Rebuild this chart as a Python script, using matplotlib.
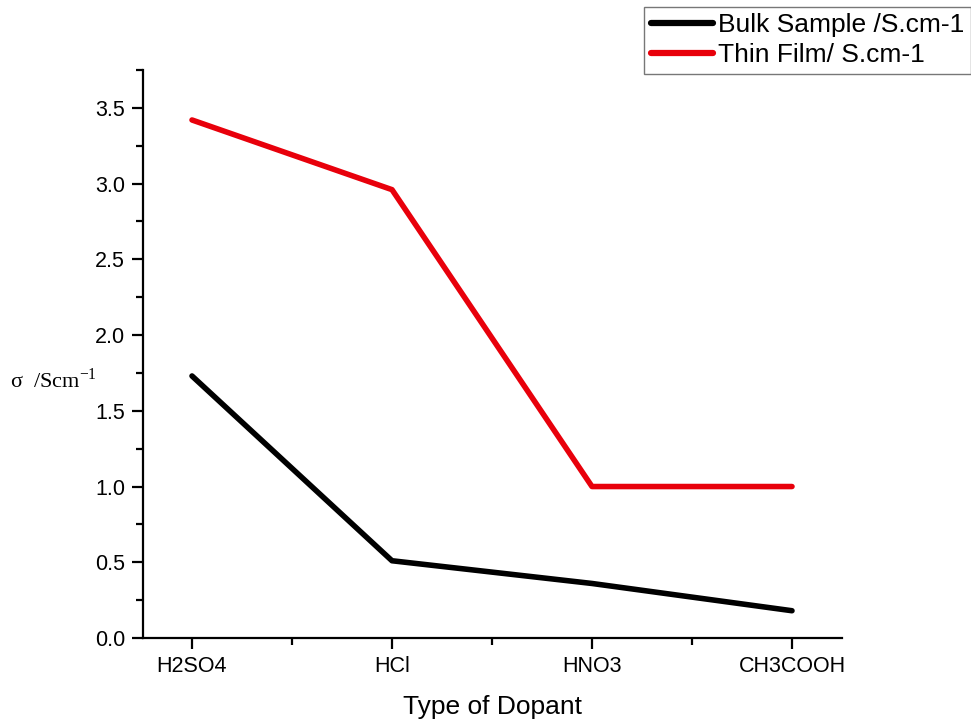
import matplotlib
matplotlib.use("Agg")
import matplotlib.pyplot as plt
from matplotlib.ticker import MultipleLocator

categories = ["H2SO4", "HCl", "HNO3", "CH3COOH"]
bulk = [1.73, 0.51, 0.36, 0.18]
thin = [3.42, 2.96, 1.00, 1.00]
labels = ["Bulk Sample /S.cm-1", "Thin Film/ S.cm-1"]

plt.rcParams['font.family'] = ['Liberation Sans', 'DejaVu Sans']

fig = plt.figure(figsize=(9.71, 7.25), dpi=100)
ax = fig.add_axes([143/971, 87/725, (842-143)/971, (638-70)/725])

x = list(range(len(categories)))
l1, = ax.plot(x, bulk, color="black", lw=4, solid_capstyle="round", label=labels[0])
l2, = ax.plot(x, thin, color="#e8000b", lw=4, solid_capstyle="round", label=labels[1])

ax.set_xlim(-0.245, 3.25)
ax.set_ylim(0, 3.75)
ax.set_xticks(x)
ax.set_xticklabels(categories)
ax.xaxis.set_minor_locator(MultipleLocator(0.5))
ax.yaxis.set_major_locator(MultipleLocator(0.5))
ax.yaxis.set_minor_locator(MultipleLocator(0.25))
ax.yaxis.set_major_formatter(matplotlib.ticker.FormatStrFormatter('%.1f'))

for s in ["top", "right"]:
    ax.spines[s].set_visible(False)
for s in ["left", "bottom"]:
    ax.spines[s].set_linewidth(1.6)
ax.tick_params(which="major", direction="out", length=8, width=1.6, labelsize=15.5, pad=5)
ax.tick_params(which="minor", direction="out", length=5, width=1.6)

ax.set_xlabel("Type of Dopant", fontsize=19, labelpad=13)
fig.text(10/971, 1 - 380/725, r"σ  /Scm$^{\mathregular{-1}}$", fontsize=16,
         family=["Liberation Serif", "DejaVu Serif"], va="center", ha="left")

leg = fig.legend(handles=[l1, l2], loc="upper right", bbox_to_anchor=(1.0, 0.991),
                 fontsize=19, frameon=True, fancybox=False, handlelength=2.35,
                 handletextpad=0.2, borderpad=0.25, labelspacing=0.23, borderaxespad=0.0)
for h in leg.legend_handles:
    h.set_linewidth(4.5)
leg.get_frame().set_edgecolor("#555555")
leg.get_frame().set_linewidth(1.0)

fig.savefig("out.png", dpi=100)
